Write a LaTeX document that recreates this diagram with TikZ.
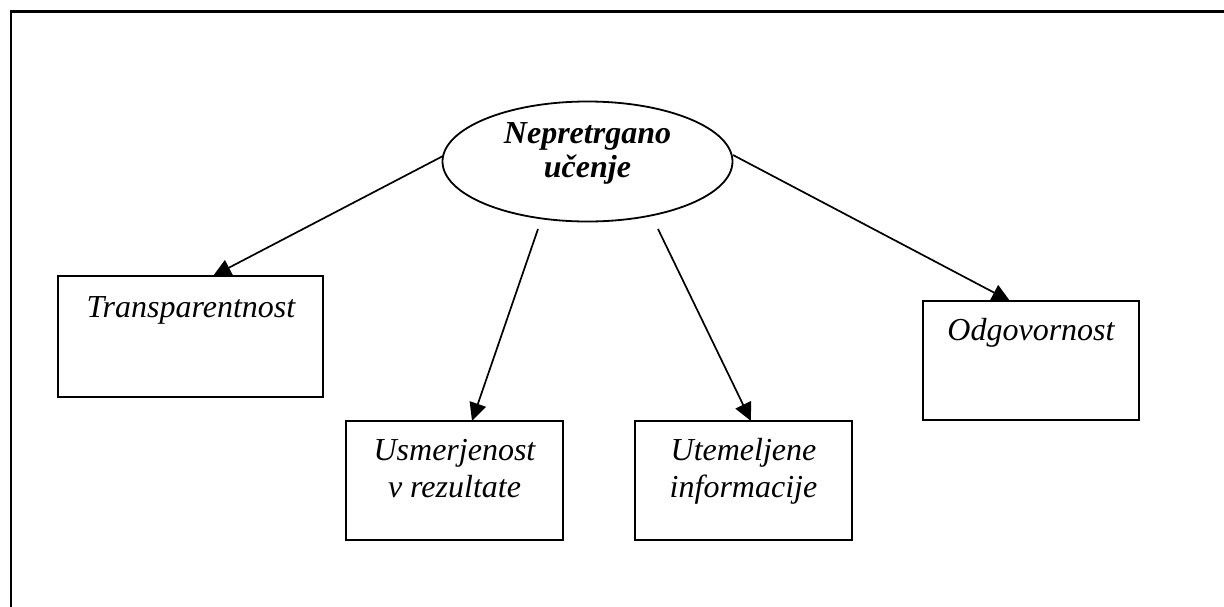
\documentclass[tikz,border=0pt]{standalone}
\usepackage{fontspec}
\setmainfont{Liberation Serif}
\usetikzlibrary{arrows.meta,shapes.geometric}
\begin{document}
\begin{tikzpicture}[x=1pt,y=-1pt,
  frameline/.style={line width=2.4pt},
  box/.style={draw,line width=2.2pt,rectangle,inner sep=0pt},
  oval/.style={draw,line width=1.8pt,ellipse,inner sep=0pt},
  lbl/.style={font=\fontsize{32}{37}\selectfont\itshape,anchor=base,align=center,inner sep=0pt},
  arr/.style={line width=1.7pt,-{Triangle[length=18pt,width=17pt]}}]
\useasboundingbox (0,0) rectangle (1224,606);
% page frame: only the left and top edges fall inside the picture
\draw[frameline] (11,620) -- (11,11.5) -- (1240,11.5);

% central idea (base anchor sits on the last line of a multi-line label)
\node[oval,minimum width=290,minimum height=120] (e) at (587.5,161.5) {};
\node[lbl,font=\fontsize{32}{34}\selectfont\bfseries\itshape] (etext) at (587.5,177) {Nepretrgano\\učenje};

% the four principles
\node[box,minimum width=265,minimum height=121] (t) at (190.5,336.5) {};
\node[lbl] (ttext) at (191,317) {Transparentnost};

\node[box,minimum width=217,minimum height=119] (u) at (454.5,480.5) {};
\node[lbl] (utext) at (454.5,497) {Usmerjenost\\v rezultate};

\node[box,minimum width=217,minimum height=119] (i) at (743.5,480.5) {};
\node[lbl] (itext) at (743.5,497) {Utemeljene\\informacije};

\node[box,minimum width=216,minimum height=119] (o) at (1031,360.5) {};
\node[lbl] (otext) at (1031,340) {Odgovornost};

% connector end points
\coordinate (s1) at (443,156);
\coordinate (s2) at (538,229);
\coordinate (s3) at (658,229);
\coordinate (s4) at (733,155);
\coordinate (h1) at (213,276);
\coordinate (h2) at (472,421);
\coordinate (h3) at (751,421);
\coordinate (h4) at (1010,301);

\draw[arr] (s1) -- (h1);
\draw[arr] (s2) -- (h2);
\draw[arr] (s3) -- (h3);
\draw[arr] (s4) -- (h4);
\end{tikzpicture}
\end{document}
